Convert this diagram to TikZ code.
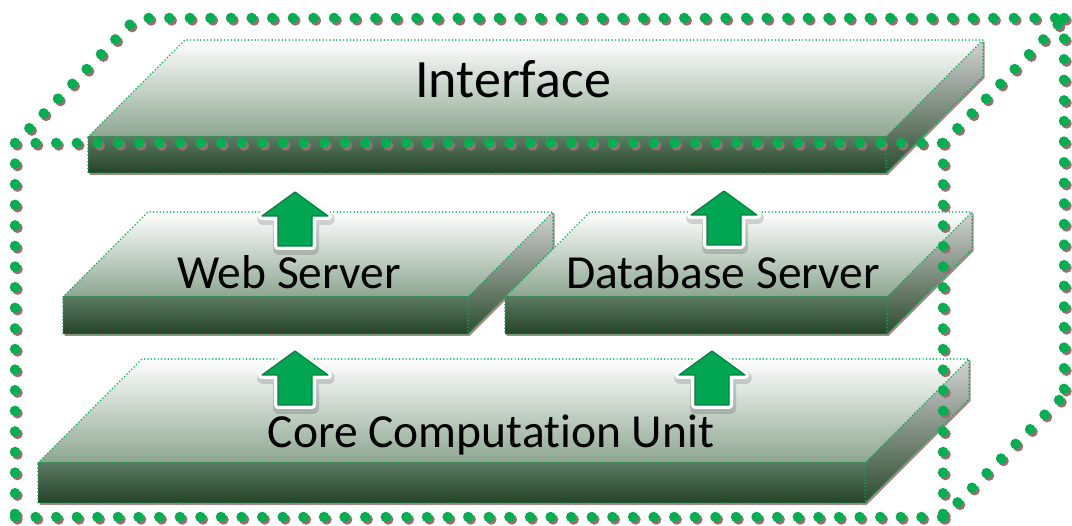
\documentclass[tikz,border=0pt]{standalone}
\usepackage{fontspec}
\setmainfont[Ligatures=NoCommon]{Carlito}
\usetikzlibrary{positioning}

\definecolor{dotgreen}{RGB}{0,176,80}
\definecolor{dotshadow}{RGB}{150,112,112}
\definecolor{arrowgreen}{RGB}{0,166,81}
\definecolor{arrowedge}{RGB}{0,128,60}
\definecolor{facemid}{RGB}{228,232,228}
\definecolor{facelow}{RGB}{140,166,144}
\definecolor{fronttop}{RGB}{92,122,97}
\definecolor{frontlow}{RGB}{36,66,38}
\definecolor{sidetop}{RGB}{210,210,210}
\definecolor{sidelow}{RGB}{45,75,48}
\definecolor{slabshade}{RGB}{170,135,135}

\tikzset{topface/.style={
    % The filling: white at the back, grey-green at the front edge
    top color=white,
    middle color=facemid,
    bottom color=facelow,
    },
    frontface/.style={
    top color=fronttop,
    bottom color=frontlow,
    },
    sideface/.style={
    top color=sidetop,
    bottom color=sidelow,
    },
    slabedge/.style={
    % The border: fine green dots
    draw=dotgreen,
    line width=1.7pt,
    dash pattern=on 0pt off 3.4pt,
    line cap=round,
    },
    slabshadow/.style={
    fill=slabshade,
    shift={(1.5,2)},
    },
    bigdots/.style={
    draw=dotgreen,
    line width=10.5pt,
    dash pattern=on 0pt off 20.6pt,
    line cap=round,
    },
    bigdotshadow/.style={
    bigdots,
    draw=dotshadow,
    shift={(2.5,2.5)},
    },
    arrowshadow/.style={
    draw=black, fill=black,
    opacity=0.15,
    line width=12pt, line join=round,
    shift={(1,3)},
    },
    arrowrim/.style={
    draw=white, fill=white,
    line width=8pt, line join=round,
    },
    arrowbody/.style={
    fill=arrowgreen,
    draw=arrowedge,
    line width=1.2pt, line join=round,
    },
    layerlabel/.style={
    anchor=base,
    inner sep=0pt,
    font=\fontsize{47.5}{56}\selectfont,
    },
    ifacelabel/.style={
    layerlabel,
    font=\fontsize{54}{64}\selectfont,
    },
}

% one slab: left, right, front top, front bottom, depth
\newcommand{\layerslab}[5]{%
  \fill[slabshadow] (#1,#3) -- (#1+#5,#3-#5) -- (#2+#5,#3-#5) -- (#2+#5,#4-#5) -- (#2,#4) -- (#1,#4) -- cycle;
  \path[topface] (#1,#3) -- (#1+#5,#3-#5) -- (#2+#5,#3-#5) -- (#2,#3) -- cycle;
  \path[frontface] (#1,#3) rectangle (#2,#4);
  \path[sideface] (#2,#3) -- (#2+#5,#3-#5) -- (#2+#5,#4-#5) -- (#2,#4) -- cycle;
  \draw[slabedge] (#1,#3) -- (#1+#5,#3-#5) -- (#2+#5,#3-#5) -- (#2+#5,#4-#5) -- (#2,#4) -- (#1,#4) -- cycle
    (#1,#3) -- (#2,#3) -- (#2+#5,#3-#5) (#2,#3) -- (#2,#4);
}

% block arrow: centre x, tip y
\newcommand{\arrowshape}[2]{(#1,#2) -- (#1+33,#2+24) -- (#1+17,#2+24) -- (#1+17,#2+54) -- (#1-17,#2+54) -- (#1-17,#2+24) -- (#1-33,#2+24) -- cycle}
\newcommand{\liftarrow}[2]{%
  \draw[arrowshadow] \arrowshape{#1}{#2};
  \draw[arrowrim] \arrowshape{#1}{#2};
  \draw[arrowbody] \arrowshape{#1}{#2};
}

\newcommand{\boxoutline}{%
  (15,143) -- (943,143)
  (943,143) -- (943,517)
  (15,517) -- (943,517)
  (15,143) -- (15,517)
  (15,143) [rounded corners=10pt] -- (136,18) [sharp corners] -- (1064,18)
  (943,143) -- (1064,18)
  (1064,18) -- (1064,395)
  (943,517) -- (1064,395)
}

\begin{document}
\begin{tikzpicture}[x=1pt,y=-1pt]
    \useasboundingbox (0,0) rectangle (1072,526);

    % the layers, back to front
    \layerslab{88}{886}{137}{173}{97}
    \layerslab{63}{468}{297}{334}{85}
    \layerslab{505}{887}{297}{334}{85}
    \layerslab{38}{865}{463}{503}{104}

    \node (iface) [ifacelabel] at (513,98)  {Interface};
    \node (web)   [layerlabel] at (289,289) {Web Server};
    \node (db)    [layerlabel] at (723,289) {Database Server};
    \node (core)  [layerlabel] at (491,448) {Core Computation Unit};

    % arrows up through the layers
    \liftarrow{295}{192}
    \liftarrow{724}{191}
    \liftarrow{295}{351}
    \liftarrow{712}{351}

    % dotted box round the lower layers
    \draw[bigdotshadow] \boxoutline;
    \draw[bigdots] \boxoutline;
\end{tikzpicture}
\end{document}
